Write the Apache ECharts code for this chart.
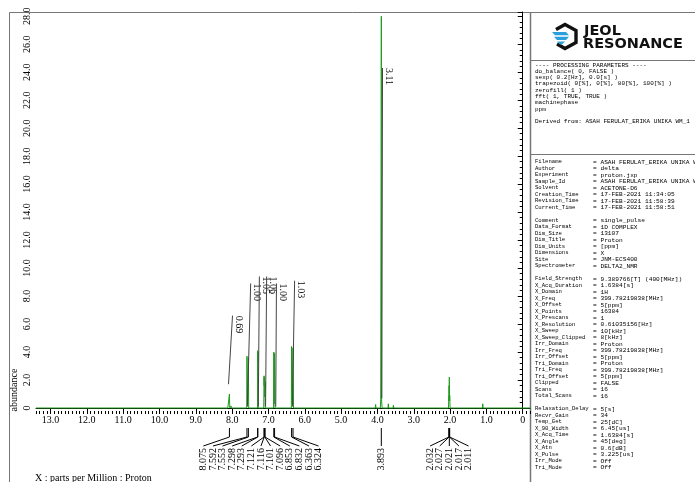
<!DOCTYPE html>
<html>
<head>
<meta charset="utf-8">
<script src="https://cdn.jsdelivr.net/npm/echarts@6/dist/echarts.min.js"></script>
<style>
  html, body { margin: 0; padding: 0; background: #fff; }
  #nmr { width: 695px; height: 482px; }
</style>
</head>
<body>
<div id="nmr"></div>
<script>
// 1H spectrum (ppm / abundance)
var shiftPpm = [13.4, 8.12, 8.10, 8.09, 8.085, 8.075, 8.065, 8.04, 8.03, 8.02,
  7.60, 7.592, 7.575, 7.562, 7.553, 7.545,
  7.30, 7.298, 7.295, 7.293, 7.285,
  7.13, 7.121, 7.118, 7.116, 7.108, 7.101, 7.098, 7.096, 7.09,
  6.86, 6.853, 6.842, 6.832, 6.82,
  6.37, 6.363, 6.345, 6.324, 6.31,
  4.06, 4.05, 4.04,
  3.92, 3.91, 3.90, 3.893, 3.885, 3.87,
  3.71, 3.70, 3.69, 3.57, 3.56, 3.55,
  2.045, 2.032, 2.029, 2.027, 2.024, 2.021, 2.019, 2.017, 2.014, 2.011, 2.00,
  1.11, 1.10, 1.09, -0.2];
var abundance = [0, 0, 0.12, 0, 0, 1.0, 0, 0, 0.15, 0,
  0, 3.7, 0.3, 0.3, 3.6, 0,
  0, 4.1, 3.3, 4.0, 0,
  0, 2.3, 1.6, 2.2, 0.8, 1.9, 1.4, 1.8, 0,
  0, 4.0, 0.3, 3.9, 0,
  0, 4.4, 0.3, 4.3, 0,
  0, 0.25, 0,
  0, 0.6, 0.5, 28.0, 0.5, 0,
  0, 0.3, 0, 0, 0.2, 0,
  0, 0.9, 0.5, 1.6, 0.9, 2.2, 1.0, 1.6, 0.5, 0.9, 0,
  0, 0.3, 0, 0];

// integral traces: start / end shift and level, with their values
var integralText = ['0.69', '1.00', '1.05', '1.06', '1.00', '1.03', '3.11'];
var integralFrom = [8.10, 7.58, 7.28, 7.08, 6.80, 6.34, 3.88];
var integralTo = [7.99, 7.49, 7.25, 7.05, 6.78, 6.28, 3.86];
var integralLow = [1.7, 0.1, 0.1, 0.1, 0.1, 0.1, 0.7];
var integralHigh = [6.6, 8.9, 9.4, 9.4, 8.9, 9.1, 24.3];

// picked peaks and the label cluster each belongs to
var peakText = ['8.075', '7.592', '7.553', '7.298', '7.293', '7.121', '7.116', '7.101',
  '7.096', '6.853', '6.832', '6.363', '6.324', '3.893', '2.032', '2.027', '2.021', '2.017', '2.011'];
var peakGroup = [0, 0, 0, 0, 0, 0, 0, 0, 0, 0, 0, 0, 0, 1, 2, 2, 2, 2, 2];

var xTicks = [0, 1, 2, 3, 4, 5, 6, 7, 8, 9, 10, 11, 12, 13];

var procLines = ['---- PROCESSING PARAMETERS ----', 'do_balance( 0, FALSE )', 'sexp( 0.2[Hz], 0.0[s] )',
  'trapezoid( 0[%], 0[%], 80[%], 100[%] )', 'zerofill( 1 )', 'fft( 1, TRUE, TRUE )',
  'machinephase', 'ppm', '', 'Derived from: ASAH FERULAT_ERIKA UNIKA WM_1'];

var paramNames = ['Filename', 'Author', 'Experiment', 'Sample_Id', 'Solvent', 'Creation_Time',
  'Revision_Time', 'Current_Time', '', 'Comment', 'Data_Format', 'Dim_Size', 'Dim_Title',
  'Dim_Units', 'Dimensions', 'Site', 'Spectrometer', '', 'Field_Strength', 'X_Acq_Duration',
  'X_Domain', 'X_Freq', 'X_Offset', 'X_Points', 'X_Prescans', 'X_Resolution', 'X_Sweep',
  'X_Sweep_Clipped', 'Irr_Domain', 'Irr_Freq', 'Irr_Offset', 'Tri_Domain', 'Tri_Freq',
  'Tri_Offset', 'Clipped', 'Scans', 'Total_Scans', '', 'Relaxation_Delay', 'Recvr_Gain',
  'Temp_Get', 'X_90_Width', 'X_Acq_Time', 'X_Angle', 'X_Atn', 'X_Pulse', 'Irr_Mode', 'Tri_Mode'];
var paramValues = ['ASAH FERULAT_ERIKA UNIKA WM_1', 'delta', 'proton.jxp', 'ASAH FERULAT_ERIKA UNIKA WM_1',
  'ACETONE-D6', '17-FEB-2021 11:34:05', '17-FEB-2021 11:58:39', '17-FEB-2021 11:58:51', '',
  'single_pulse', '1D COMPLEX', '13107', 'Proton', '[ppm]', 'X', 'JNM-ECS400', 'DELTA2_NMR', '',
  '9.389766[T] (400[MHz])', '1.6384[s]', '1H', '399.78219838[MHz]', '5[ppm]', '16384', '1',
  '0.61035156[Hz]', '10[kHz]', '8[kHz]', 'Proton', '399.78219838[MHz]', '5[ppm]', 'Proton',
  '399.78219838[MHz]', '5[ppm]', 'FALSE', '16', '16', '', '5[s]', '34', '25[dC]', '6.45[us]',
  '1.6384[s]', '45[deg]', '0.6[dB]', '3.225[us]', 'Off', 'Off'];

var serif = '"Liberation Serif", "Times New Roman", serif';
var mono = '"Liberation Mono", "DejaVu Sans Mono", monospace';
var green = '#1c9a1c';

var chart = echarts.init(document.getElementById('nmr'));

var series = [{
  type: 'line',
  data: shiftPpm.map(function (p, i) { return [p, abundance[i]]; }),
  showSymbol: false,
  clip: false,
  silent: true,
  lineStyle: { color: green, width: 1 },
  z: 3
}];
// 积分线
integralText.forEach(function (t, i) {
  series.push({
    type: 'line',
    data: [[integralFrom[i], integralLow[i]], [integralTo[i], integralHigh[i]]],
    showSymbol: false,
    silent: true,
    lineStyle: { color: '#444', width: 1 },
    z: 4
  });
});

var minorX = [];
for (var k = -2; k <= 134; k++) minorX.push(k / 10);

function fmt(v) { return v === 0 ? '0' : v.toFixed(1); }

chart.setOption({
  animation: false,
  grid: { left: 36, right: 165, top: 12, bottom: 74 },
  xAxis: [{
    type: 'value', inverse: true, min: -0.2, max: 13.4, offset: 3,
    axisLine: { lineStyle: { color: '#000', width: 1 } },
    axisTick: { customValues: xTicks, length: 5, lineStyle: { color: '#000' } },
    axisLabel: { customValues: xTicks, margin: 4, color: '#000', fontFamily: serif, fontSize: 10, formatter: fmt },
    splitLine: { show: false }
  }, {
    type: 'value', inverse: true, min: -0.2, max: 13.4, offset: 3, position: 'bottom',
    axisLine: { show: false },
    axisTick: { customValues: minorX, length: 3, lineStyle: { color: '#000' } },
    axisLabel: { show: false },
    splitLine: { show: false }
  }],
  yAxis: {
    type: 'value', min: 0, max: 28.3, interval: 2,
    axisLine: { show: true, lineStyle: { color: '#000', width: 1 } },
    axisTick: { show: true, length: 5, lineStyle: { color: '#000' } },
    minorTick: { show: true, splitNumber: 5, length: 3, lineStyle: { color: '#000' } },
    axisLabel: { rotate: 90, margin: 4, color: '#000', fontFamily: serif, fontSize: 10, formatter: fmt },
    splitLine: { show: false }
  },
  series: series
});

// frame, side panel, annotations (placed after the axes exist)
var g = [];
function line(x1, y1, x2, y2, color, w) {
  g.push({ type: 'line', silent: true, shape: { x1: x1, y1: y1, x2: x2, y2: y2 },
    style: { stroke: color, lineWidth: w || 1 } });
}
function text(x, y, str, opt) {
  var o = opt || {};
  g.push({ type: 'text', silent: true, x: x, y: y, rotation: o.rotation || 0,
    style: { text: str, fill: o.fill || '#000', fontSize: o.size || 10, fontFamily: o.family || serif,
      fontWeight: o.weight || 'normal', align: o.align || 'left', verticalAlign: o.valign || 'middle' } });
}

line(9.5, 12.5, 695, 12.5, '#777', 1);
line(9.5, 12.5, 9.5, 482, '#777', 1);
line(530.5, 12.5, 530.5, 482, '#777', 1.5);
line(530, 60.5, 695, 60.5, '#777', 1);
line(530, 154.5, 695, 154.5, '#777', 1);

// peak labels below the axis
var groups = {};
peakText.forEach(function (t, i) {
  var x = chart.convertToPixel({ xAxisIndex: 0 }, parseFloat(t));
  (groups[peakGroup[i]] = groups[peakGroup[i]] || []).push({ t: t, x: x });
});
Object.keys(groups).forEach(function (key) {
  var arr = groups[key];
  var c = arr.reduce(function (s, p) { return s + p.x; }, 0) / arr.length;
  if (arr.length > 6) c -= 3;
  arr.forEach(function (p, j) {
    var lx = arr.length === 1 ? p.x : c + (j - (arr.length - 1) / 2) * 9.6;
    line(p.x, 428, p.x, 437, '#000', 1);
    line(p.x, 437, lx, 446, '#000', 1);
    text(lx, 448, p.t, { rotation: Math.PI / 2, align: 'right', size: 10 });
  });
});

// integral values
integralText.forEach(function (t, i) {
  var pt = chart.convertToPixel({ gridIndex: 0 }, [integralTo[i], integralHigh[i]]);
  text(pt[0] + 6, pt[1], t, { rotation: -Math.PI / 2, align: 'left', size: 10 });
});

text(14, 390, 'abundance', { rotation: Math.PI / 2, align: 'center', size: 10 });
text(35, 478, 'X : parts per Million : Proton', { size: 10 });

// logo
g.push({ type: 'polyline', silent: true,
  shape: { points: [[556, 29.5], [565, 24.5], [576, 30.5], [576, 42.5], [565, 48.5], [557, 44]] },
  style: { stroke: '#111', lineWidth: 3.4, fill: null, lineJoin: 'miter' } });
g.push({ type: 'polygon', silent: true, shape: { points: [[552, 32], [566, 32], [569, 35.2], [555, 35.2]] }, style: { fill: '#2b9fdc' } });
g.push({ type: 'polygon', silent: true, shape: { points: [[554, 36.8], [569, 36.8], [566, 40], [557, 40]] }, style: { fill: '#2b9fdc' } });
g.push({ type: 'polygon', silent: true, shape: { points: [[557, 41.5], [565, 41.5], [562, 44.5], [560, 44.5]] }, style: { fill: '#2b9fdc' } });
text(584, 31.5, 'JEOL', { size: 14.5, weight: 'bold', family: '"DejaVu Sans", sans-serif', fill: '#111' });
text(583, 44.5, 'RESONANCE', { size: 14.5, weight: 'bold', family: '"DejaVu Sans", sans-serif', fill: '#111' });

// processing parameters and acquisition listing
procLines.forEach(function (s, i) {
  if (s) text(535, 65 + i * 6.3, s, { size: 6, family: mono, fill: '#000' });
});
paramNames.forEach(function (n, i) {
  if (!n) return;
  var y = 162 + i * 6.5;
  text(535, y, n, { size: 5.6, family: mono, fill: '#000' });
  text(593, y, '= ' + paramValues[i], { size: 6.2, family: mono, fill: '#000' });
});

chart.setOption({ graphic: { elements: g } });
</script>
</body>
</html>
